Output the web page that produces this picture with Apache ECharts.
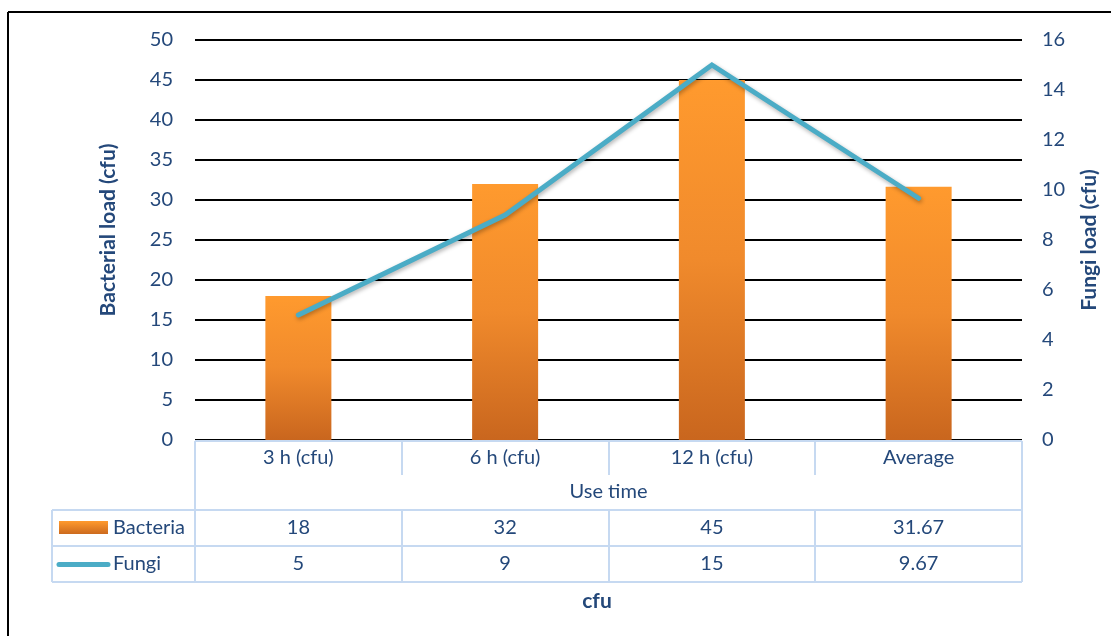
<!DOCTYPE html>
<html><head><meta charset="utf-8">
<script src="https://cdn.jsdelivr.net/npm/echarts@6/dist/echarts.min.js"></script>
<style>html,body{margin:0;padding:0;background:#fff}#c{width:1117px;height:636px}</style>
</head><body><div id="c"></div>
<script>
var categories = ['3 h (cfu)', '6 h (cfu)', '12 h (cfu)', 'Average'];
var bacteria = [18, 32, 45, 31.67];
var fungi = [5, 9, 15, 9.67];
var seriesNames = ['Bacteria', 'Fungi'];
var leftTitle = 'Bacterial load (cfu)';
var rightTitle = 'Fungi load (cfu)';
var xTitle = 'Use time';
var bottomTitle = 'cfu';

var TXT = '#24487a';
var FONT = 'Lato';
var FS = 20;
var TFS = 21;
var chart = echarts.init(document.getElementById('c'));
var option = {
  animation: false,
  textStyle: {fontFamily: FONT},
  grid: {left: 195, right: 95, top: 40, bottom: 196},
  xAxis: {
    type: 'category', data: categories,
    axisLine: {show: false}, axisTick: {show: false},
    axisLabel: {color: TXT, fontSize: FS, fontFamily: FONT, margin: 8}
  },
  yAxis: [
    {type: 'value', min: 0, max: 50, interval: 5,
     name: leftTitle, nameLocation: 'middle', nameGap: 76, nameRotate: 90,
     nameTextStyle: {color: TXT, fontSize: TFS, fontWeight: 'bold', fontFamily: FONT, padding: [0, 0, 0, 20]},
     axisLabel: {color: TXT, fontSize: FS, fontFamily: FONT, margin: 22},
     axisLine: {show: false}, axisTick: {show: false},
     splitLine: {lineStyle: {color: '#000', width: 2}}},
    {type: 'value', min: 0, max: 16, interval: 2, position: 'right',
     name: rightTitle, nameLocation: 'middle', nameGap: 57, nameRotate: 90,
     nameTextStyle: {color: TXT, fontSize: TFS, fontWeight: 'bold', fontFamily: FONT},
     axisLabel: {color: TXT, fontSize: FS, fontFamily: FONT, margin: 20},
     axisLine: {show: false}, axisTick: {show: false}, splitLine: {show: false}}
  ],
  series: [
    {name: seriesNames[0], type: 'bar', data: bacteria, barWidth: 66, yAxisIndex: 0,
     itemStyle: {
       color: new echarts.graphic.LinearGradient(0, 0, 0, 1, [
         {offset: 0, color: '#ff9a2e'}, {offset: 0.5, color: '#f08a2c'}, {offset: 1, color: '#c9661e'}]),
       shadowColor: 'rgba(0,0,0,0.35)', shadowBlur: 5, shadowOffsetX: 1, shadowOffsetY: 2
     }},
    {name: seriesNames[1], type: 'line', data: fungi, yAxisIndex: 1, symbol: 'none',
     lineStyle: {color: '#4bacc6', width: 5, cap: 'round', join: 'miter',
       shadowColor: 'rgba(0,0,0,0.3)', shadowBlur: 4, shadowOffsetX: 1, shadowOffsetY: 2},
     itemStyle: {color: '#4bacc6'}}
  ]
};
chart.setOption(option);

function build() {
  var left = 195, right = 1022, yTop = 441, yHdr = 475, yR1 = 510, yR2 = 546, yR3 = 582, xLeg = 52;
  var BC = '#c6d9f1';
  var g = [];
  function line(x1, y1, x2, y2, col, w) {
    g.push({type: 'line', shape: {x1: x1, y1: y1, x2: x2, y2: y2}, style: {stroke: col || BC, lineWidth: w || 2}, z: 10});
  }
  function text(x, y, s, opts) {
    g.push({type: 'text', x: x, y: y, z: 11, style: Object.assign({text: s, fill: TXT, font: FS + 'px ' + FONT, textAlign: 'center', textVerticalAlign: 'middle'}, opts || {})});
  }
  line(8, 12, 1111, 12, '#000', 2);
  line(8, 12, 8, 636, '#000', 2);
  var bounds = [];
  for (var i = 0; i < categories.length; i++) {
    bounds.push(chart.convertToPixel({xAxisIndex: 0}, categories[i]));
  }
  var half = (bounds[1] - bounds[0]) / 2;
  line(left, yTop, right, yTop);
  line(left, yTop, left, yR3);
  line(right, yTop, right, yR3);
  for (var i = 1; i < bounds.length; i++) {
    var bx = Math.round(bounds[i] - half);
    line(bx, yTop, bx, yHdr);
    line(bx, yR1, bx, yR3);
  }
  line(xLeg, yR1, right, yR1);
  line(xLeg, yR2, right, yR2);
  line(xLeg, yR3, right, yR3);
  line(xLeg, yR1, xLeg, yR3);
  text((left + right) / 2, (yHdr + yR1) / 2 - 1, xTitle);
  for (var i = 0; i < categories.length; i++) {
    text(bounds[i], (yR1 + yR2) / 2, String(bacteria[i]));
    text(bounds[i], (yR2 + yR3) / 2, String(fungi[i]));
  }
  g.push({type: 'rect', shape: {x: 59, y: 521, width: 49, height: 13}, z: 11,
    style: {fill: new echarts.graphic.LinearGradient(0, 0, 0, 1, [{offset: 0, color: '#ff9a2e'}, {offset: 1, color: '#cc6a1e'}])}});
  g.push({type: 'line', shape: {x1: 59, y1: 564.5, x2: 108, y2: 564.5}, z: 11, style: {stroke: '#4bacc6', lineWidth: 5, lineCap: 'round'}});
  text(113, (yR1 + yR2) / 2, seriesNames[0], {textAlign: 'left'});
  text(113, (yR2 + yR3) / 2, seriesNames[1], {textAlign: 'left'});
  text(597, 601, bottomTitle, {font: 'bold ' + TFS + 'px ' + FONT});
  chart.setOption({graphic: g});
}
build();
</script></body></html>
